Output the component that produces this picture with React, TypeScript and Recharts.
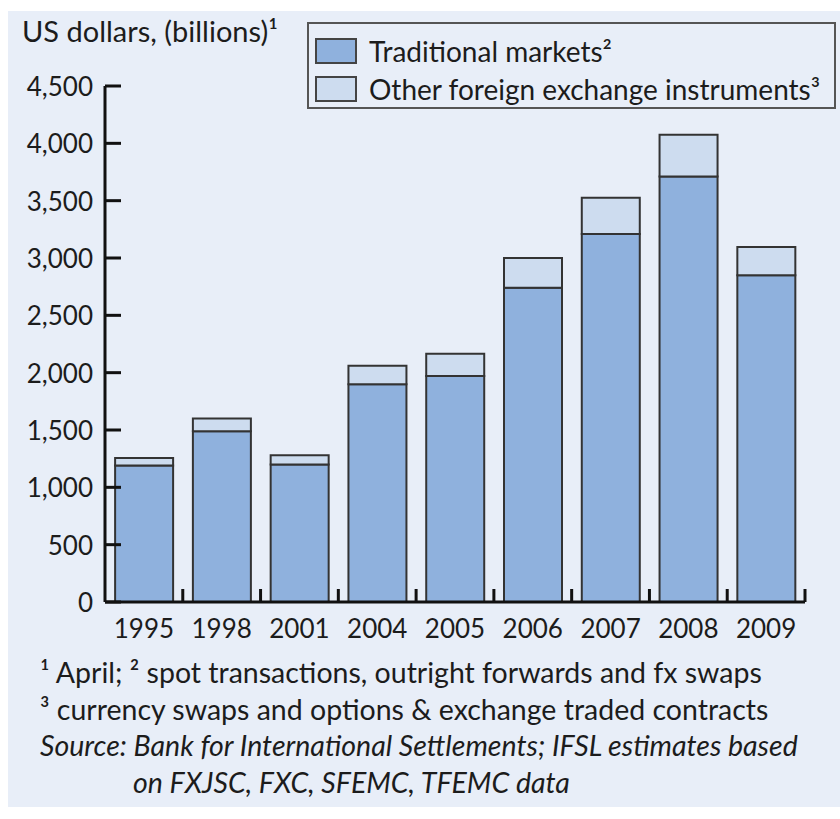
import React from 'react';
import { BarChart, Bar, XAxis, YAxis } from 'recharts';

// values (US$ billions, daily turnover)
const years = ['1995', '1998', '2001', '2004', '2005', '2006', '2007', '2008', '2009'];
const traditional = [1190, 1490, 1200, 1900, 1970, 2740, 3210, 3710, 2850];
const otherInstruments = [65, 110, 80, 160, 195, 260, 315, 365, 245];
const yTicks = [0, 500, 1000, 1500, 2000, 2500, 3000, 3500, 4000, 4500];

const data = years.map((year, i) => ({
  year,
  traditional: traditional[i],
  other: otherInstruments[i],
}));

const FONT = 'Lato, "Open Sans", sans-serif';
const TEXT = '#1c1c1c';
const PANEL = '#e8eef8';
const DARK_BLUE = '#8fb1dd';
const LIGHT_BLUE = '#cddcef';

const YTick = (props: any) => {
  const { x, y, payload } = props;
  return (
    <g>
      <line x1={x + 12} x2={x + 28} y1={y} y2={y} stroke="#111" strokeWidth={3} />
      <text x={x} y={y} textAnchor="end" dominantBaseline="central" fill={TEXT}
        fontFamily={FONT} fontSize={26}>
        {Number(payload.value).toLocaleString('en-US')}
      </text>
    </g>
  );
};

const XTick = (props: any) => {
  const { x, y, payload } = props;
  const half = payload.offset || 38.9;
  return (
    <g>
      <line x1={x + half} x2={x + half} y1={y} y2={y - 13} stroke="#111" strokeWidth={3} />
      <text x={x} y={y + 26} textAnchor="middle" dominantBaseline="central" fill={TEXT}
        fontFamily={FONT} fontSize={26}>
        {payload.value}
      </text>
    </g>
  );
};

const Swatch = ({ color }: { color: string }) => (
  <span style={{
    display: 'inline-block', width: 42, height: 26, background: color,
    border: '2px solid #444', boxSizing: 'border-box', marginRight: 12,
  }} />
);

export default function App() {
  return (
    <div style={{ position: 'absolute', left: 0, top: 0, width: 840, height: 819, background: '#fff', fontFamily: FONT, color: TEXT }}>
      <div style={{ position: 'absolute', left: 8, top: 11, width: 832, height: 796, background: PANEL }} />

      <div style={{ position: 'absolute', left: 0, top: 0 }}>
        <BarChart width={840} height={660} data={data}
          margin={{ top: 86, right: 35, bottom: 0, left: 0 }} barCategoryGap="13%">
          <YAxis domain={[0, 4500]} ticks={yTicks} width={105} tickSize={0} tickMargin={12}
            interval={0} axisLine={{ stroke: '#111', strokeWidth: 3 }} tickLine={false} tick={<YTick />} />
          <XAxis dataKey="year" height={58} tickSize={0} tickMargin={0} interval={0}
            axisLine={{ stroke: '#111', strokeWidth: 3 }} tickLine={false} tick={<XTick />} />
          <Bar dataKey="traditional" stackId="a" fill={DARK_BLUE} stroke="#333" strokeWidth={2} isAnimationActive={false} />
          <Bar dataKey="other" stackId="a" fill={LIGHT_BLUE} stroke="#333" strokeWidth={2} isAnimationActive={false} />
        </BarChart>
      </div>

      <div style={{ position: 'absolute', left: 22, top: 13, fontSize: 29, whiteSpace: 'nowrap' }}>
        US dollars, (billions)¹
      </div>

      <div style={{
        position: 'absolute', left: 307, top: 22, width: 529, height: 87, boxSizing: 'border-box',
        border: '2px solid #555', padding: '8px 0 0 6px', fontSize: 28, lineHeight: '38px', whiteSpace: 'nowrap',
      }}>
        <div style={{ display: 'flex', alignItems: 'center' }}><Swatch color={DARK_BLUE} />Traditional markets²</div>
        <div style={{ display: 'flex', alignItems: 'center' }}><Swatch color={LIGHT_BLUE} />Other foreign exchange instruments³</div>
      </div>

      <div style={{ position: 'absolute', left: 40, top: 654, fontSize: 28.5, lineHeight: '36.5px', whiteSpace: 'nowrap' }}>
        <div>¹ April; ² spot transactions, outright forwards and fx swaps</div>
        <div>³ currency swaps and options &amp; exchange traded contracts</div>
        <div style={{ fontStyle: 'italic' }}>Source: Bank for International Settlements; IFSL estimates based</div>
        <div style={{ fontStyle: 'italic', paddingLeft: 93 }}>on FXJSC, FXC, SFEMC, TFEMC data</div>
      </div>
    </div>
  );
}
